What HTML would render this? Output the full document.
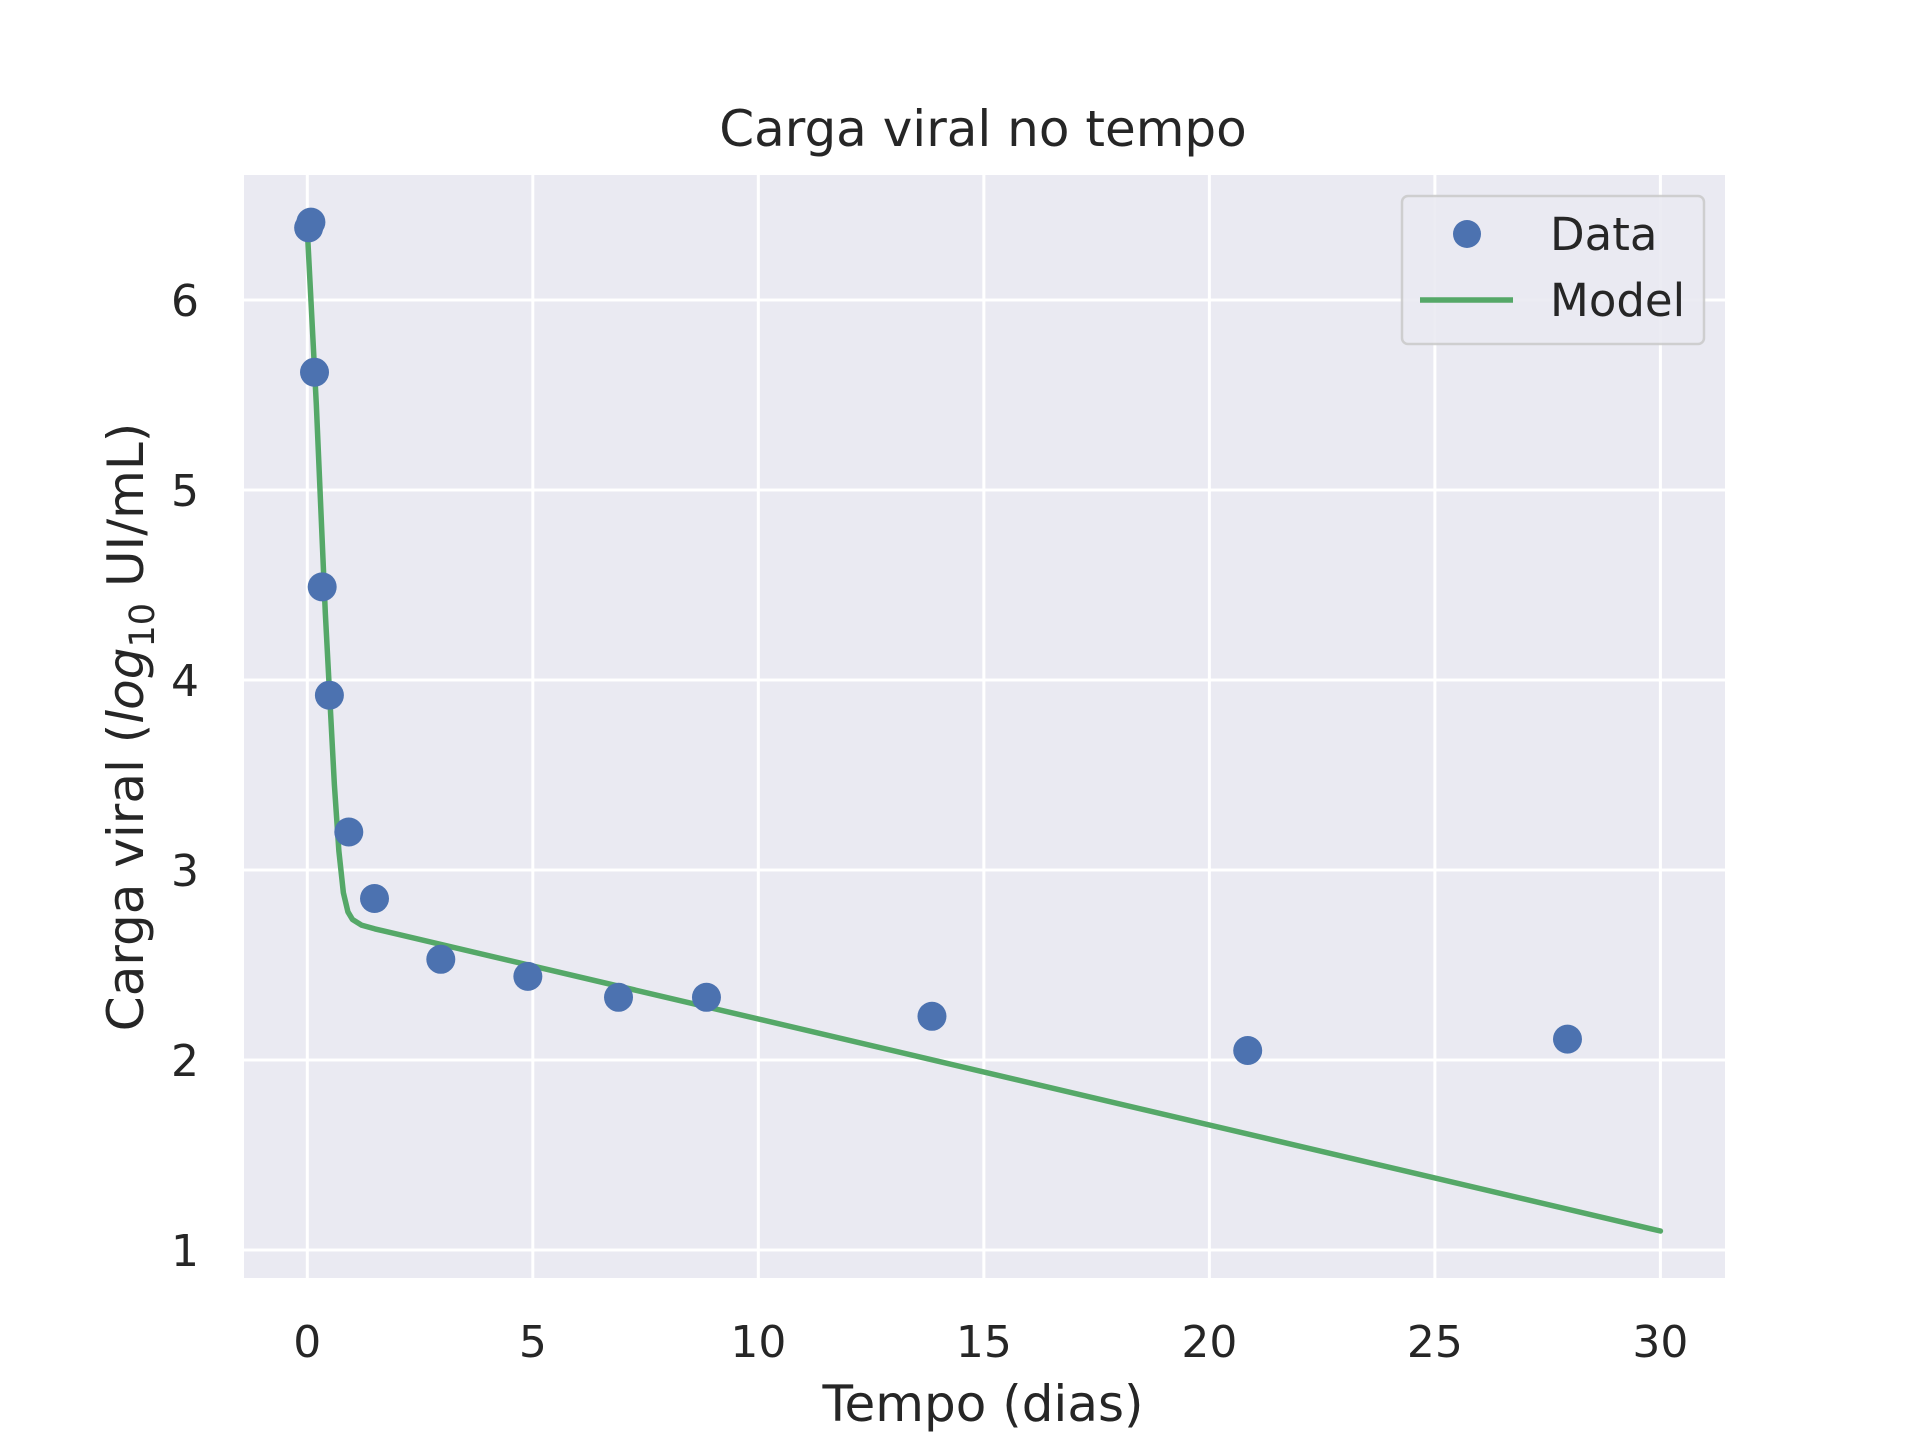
<!DOCTYPE html>
<html><head><meta charset="utf-8"><style>
html,body{margin:0;padding:0;background:#fff;}
svg text{font-family:"DejaVu Sans","Liberation Sans",sans-serif;fill:#262626;}
</style></head><body>
<svg id="chart" width="1920" height="1440" xmlns="http://www.w3.org/2000/svg">
<rect x="244" y="175" width="1481" height="1103" fill="#eaeaf2"/>
<g id="grid"></g><g id="ticks"></g>
<g id="model"></g><g id="points"></g>
<text x="983" y="146" font-size="50" text-anchor="middle">Carga viral no tempo</text>
<text x="983" y="1421" font-size="50" text-anchor="middle">Tempo (dias)</text>
<text transform="translate(143,727) rotate(-90)" font-size="50" text-anchor="middle">Carga viral (<tspan font-style="italic">log</tspan><tspan font-size="35" dy="11">10</tspan><tspan dy="-11"> UI/mL)</tspan></text>
<g>
<rect x="1402" y="196" width="302" height="148" rx="6" fill="#eaeaf2" stroke="#cccccc" stroke-width="2.5" opacity="0.9"/>
<circle cx="1467" cy="234" r="14" fill="#4c72b0"/>
<text x="1550" y="250" font-size="45">Data</text>
<line x1="1420" y1="300" x2="1513" y2="300" stroke="#55a868" stroke-width="5.5"/>
<text x="1550" y="316" font-size="45">Model</text>
</g>
</svg>
<script>
const xTicks=[0,5,10,15,20,25,30];
const yTicks=[1,2,3,4,5,6];
const dataT=[0.03,0.08,0.16,0.33,0.49,0.92,1.49,2.96,4.89,6.9,8.85,13.85,20.85,27.94];
const dataV=[6.38,6.41,5.62,4.49,3.92,3.20,2.85,2.53,2.44,2.33,2.33,2.23,2.05,2.11];
const modelT=[0,0.2,0.4,0.6,0.7,0.8,0.9,1.0,1.2,1.5,30];
const modelV=[6.37,5.45,4.35,3.45,3.1,2.88,2.78,2.74,2.71,2.69,1.10];
const X=v=>307.3+v*(1660.4-307.3)/30;
const Y=v=>1250-(v-1)*(1250-300)/5;
const NS="http://www.w3.org/2000/svg";
function mk(tag,attrs,parent){const e=document.createElementNS(NS,tag);for(const k in attrs)e.setAttribute(k,attrs[k]);document.getElementById(parent).appendChild(e);return e;}
xTicks.forEach(t=>{
 const l=mk('line',{x1:X(t),x2:X(t),y1:175,y2:1278,stroke:'#fff','stroke-width':3},'grid');
 
 
 const tx=mk('text',{x:X(t),y:1357,'font-size':44,'text-anchor':'middle'},'ticks');tx.textContent=t;
 
 
});
yTicks.forEach(t=>{
 const l=mk('line',{x1:244,x2:1725,y1:Y(t),y2:Y(t),stroke:'#fff','stroke-width':3},'grid');
 
 
 const tx=mk('text',{x:199,y:Y(t)+16,'font-size':44,'text-anchor':'end'},'ticks');tx.textContent=t;
 
 
});
const p=mk('polyline',{points:modelT.map((t,i)=>X(t)+','+Y(modelV[i])).join(' '),fill:'none',stroke:'#55a868','stroke-width':5.5,'stroke-linejoin':'round','stroke-linecap':'round'},'model');


dataT.forEach((t,i)=>{
 const c=mk('circle',{cx:X(t),cy:Y(dataV[i]),r:14.5,fill:'#4c72b0'},'points');
 
 
});
</script>
</body></html>
